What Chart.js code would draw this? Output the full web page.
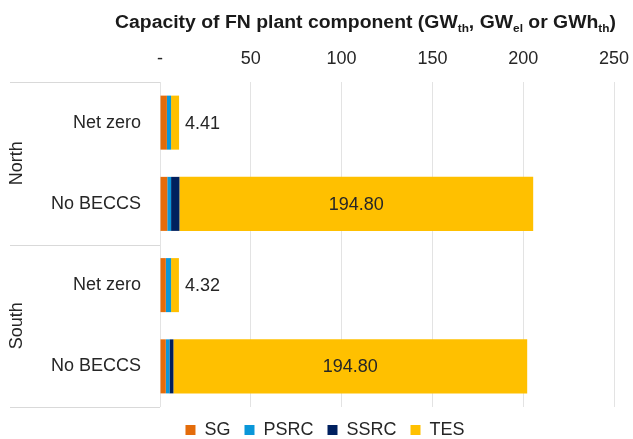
<!DOCTYPE html>
<html>
<head>
<meta charset="utf-8">
<script src="https://cdn.jsdelivr.net/npm/chart.js@4/dist/chart.umd.min.js"></script>
<style>
  html, body { margin: 0; padding: 0; background: #ffffff; }
  #wrap { width: 633px; height: 439px; position: relative; }
</style>
</head>
<body>
<div id="wrap"><canvas id="c" width="633" height="439"></canvas></div>
<script>
// ---- data ----
const scenarios = ['Net zero', 'No BECCS', 'Net zero', 'No BECCS'];
const regions = ['North', 'South'];
const regionSizes = [2, 2];
const seriesNames = ['SG', 'PSRC', 'SSRC', 'TES'];
const sgValues = [3.8, 4.0, 3.2, 3.2];
const psrcValues = [2.3, 2.1, 2.9, 2.0];
const ssrcValues = [0.0, 4.6, 0.0, 2.2];
const tesValues = [4.41, 194.80, 4.32, 194.80];
const xTickValues = [0, 50, 100, 150, 200, 250];
const titleParts = [
  ['Capacity of FN plant component (GW', false],
  ['th', true],
  [', GW', false],
  ['el', true],
  [' or GWh', false],
  ['th', true],
  [')', false]
];
const colors = ['#E46C0A', '#0A97D9', '#00205F', '#FFC000'];

const FONT = "'Liberation Sans', Arial, sans-serif";
const TEXT = '#262626';

const titlePlugin = {
  id: 'titlePlugin',
  afterDraw(chart) {
    const ctx = chart.ctx;
    ctx.save();
    const mainFont = "bold 18px " + FONT;
    const subFont = "bold 11px " + FONT;
    let total = 0;
    const widths = titleParts.map(([t, sub]) => {
      ctx.font = sub ? subFont : mainFont;
      const w = ctx.measureText(t).width;
      total += w;
      return w;
    });
    const left = 115, right = 616;
    const sx = (right - left) / total;
    ctx.translate(left, 0);
    ctx.scale(sx, 1);
    ctx.fillStyle = '#1a1a1a';
    ctx.textBaseline = 'alphabetic';
    ctx.textAlign = 'left';
    let x = 0;
    titleParts.forEach(([t, sub], i) => {
      ctx.font = sub ? subFont : mainFont;
      ctx.fillText(t, x, sub ? 31.5 : 27.5);
      x += widths[i];
    });
    ctx.restore();
  }
};

const groupPlugin = {
  id: 'groupPlugin',
  afterLayout(chart) {
    const lg = chart.legend;
    if (lg) {
      lg.left += 18; lg.right += 18;
    }
  },
  afterDraw(chart) {
    const ctx = chart.ctx;
    const ys = chart.scales.y;
    const left = chart.chartArea.left;
    ctx.save();
    ctx.strokeStyle = '#d9d9d9';
    ctx.lineWidth = 1;
    let start = 0;
    const bounds = [ys.getPixelForValue(-0.5)];
    regionSizes.forEach(n => {
      start += n;
      bounds.push(ys.getPixelForValue(start - 0.5));
    });
    bounds.forEach(b => {
      const yy = Math.round(b) + 0.5;
      ctx.beginPath();
      ctx.moveTo(10, yy);
      ctx.lineTo(left, yy);
      ctx.stroke();
    });
    ctx.fillStyle = TEXT;
    ctx.font = "18px " + FONT;
    ctx.textAlign = 'center';
    ctx.textBaseline = 'middle';
    regions.forEach((r, i) => {
      const cy = (bounds[i] + bounds[i + 1]) / 2;
      ctx.save();
      ctx.translate(17, cy);
      ctx.rotate(-Math.PI / 2);
      ctx.fillText(r, 0, 0);
      ctx.restore();
    });
    ctx.restore();
  }
};

const labelPlugin = {
  id: 'labelPlugin',
  afterDatasetsDraw(chart) {
    const ctx = chart.ctx;
    const meta = chart.getDatasetMeta(3);
    ctx.save();
    ctx.fillStyle = TEXT;
    ctx.font = "18px " + FONT;
    ctx.textBaseline = 'middle';
    meta.data.forEach((el, i) => {
      const v = tesValues[i];
      const txt = v.toFixed(2);
      if (v < 20) {
        ctx.textAlign = 'left';
        ctx.fillText(txt, el.x + 6, el.y + 1);
      } else {
        ctx.textAlign = 'center';
        ctx.fillText(txt, (el.x + el.base) / 2, el.y + 1);
      }
    });
    ctx.restore();
  }
};

const seriesValues = [sgValues, psrcValues, ssrcValues, tesValues];

new Chart(document.getElementById('c'), {
  type: 'bar',
  data: {
    labels: scenarios,
    datasets: seriesNames.map((name, i) => ({
      label: name,
      data: seriesValues[i],
      backgroundColor: colors[i],
      borderWidth: 0,
      categoryPercentage: 1,
      barPercentage: 0.665
    }))
  },
  options: {
    indexAxis: 'y',
    responsive: false,
    animation: false,
    devicePixelRatio: 1,
    layout: { padding: { top: 0, left: 0, right: 19, bottom: -10 } },
    plugins: {
      title: { display: false },
      tooltip: { enabled: false },
      legend: {
        position: 'bottom',
        labels: {
          boxWidth: 10,
          boxHeight: 10,
          padding: 14,
          color: TEXT,
          font: { family: FONT, size: 18 }
        }
      }
    },
    scales: {
      x: {
        position: 'top',
        stacked: true,
        min: 0,
        max: 250,
        afterBuildTicks(s) { s.ticks = xTickValues.map(v => ({ value: v })); },
        afterFit(s) { s.height = 82; s.paddingLeft = 0; s.paddingRight = 0; },
        ticks: {
          padding: 12,
          color: TEXT,
          font: { family: FONT, size: 18 },
          callback: v => (v === 0 ? '-' : String(v))
        },
        grid: { color: '#e3e3e3', drawTicks: false },
        border: { display: false }
      },
      y: {
        stacked: true,
        afterFit(s) { s.width = 160; },
        ticks: {
          padding: 19,
          color: TEXT,
          font: { family: FONT, size: 18 }
        },
        grid: { display: false, drawTicks: false },
        border: { display: false }
      }
    }
  },
  plugins: [titlePlugin, groupPlugin, labelPlugin]
});
</script>
</body>
</html>
